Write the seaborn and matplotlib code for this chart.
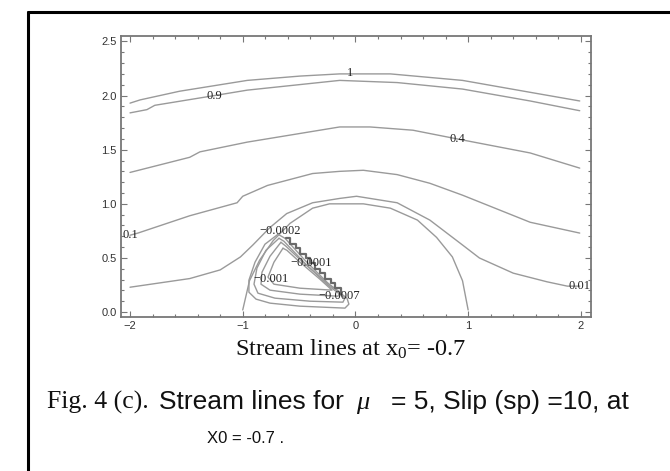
import numpy as np
import pandas as pd
import matplotlib
matplotlib.use("Agg")
import matplotlib.pyplot as plt
from matplotlib import font_manager
from matplotlib.lines import Line2D
from matplotlib.ticker import MultipleLocator, FormatStrFormatter
import seaborn as sns

# ---------------- data (stream function contours) ----------------
c1_x = [-2.0, -1.91, -1.56, -0.96, -0.49, -0.14, 0.31, 0.95, 1.55, 1.99]
c1_y = [1.93, 1.96, 2.04, 2.14, 2.18, 2.20, 2.20, 2.14, 2.03, 1.95]

c09_x = [-2.0, -1.85, -1.78, -1.25, -0.96, -0.14, 0.37, 0.95, 1.55, 1.99]
c09_y = [1.84, 1.87, 1.91, 2.00, 2.05, 2.14, 2.12, 2.06, 1.95, 1.86]

c04_x = [-2.0, -1.47, -1.38, -0.96, -0.14, 0.13, 0.51, 0.90, 1.55, 1.99]
c04_y = [1.29, 1.43, 1.48, 1.57, 1.71, 1.71, 1.68, 1.60, 1.47, 1.33]

c01_x = [-2.0, -1.93, -1.47, -1.05, -1.00, -0.78, -0.38, -0.14, 0.07, 0.37, 0.66, 0.95, 1.55, 1.99]
c01_y = [0.71, 0.73, 0.89, 1.01, 1.07, 1.17, 1.28, 1.30, 1.31, 1.27, 1.19, 1.08, 0.83, 0.73]

c001_x = [-2.0, -1.47, -1.20, -1.02, -0.91, -0.76, -0.61, -0.38, -0.14, 0.01, 0.37, 0.66, 0.95, 1.10, 1.40, 1.70, 1.88, 1.99]
c001_y = [0.23, 0.31, 0.39, 0.51, 0.62, 0.78, 0.91, 1.01, 1.05, 1.07, 1.01, 0.85, 0.62, 0.50, 0.36, 0.28, 0.24, 0.24]

c0_x = [-1.0, -0.94, -0.85, -0.73, -0.58, -0.38, -0.23, 0.07, 0.31, 0.55, 0.72, 0.86, 0.95, 1.0]
c0_y = [0.02, 0.29, 0.48, 0.66, 0.82, 0.96, 1.00, 1.00, 0.96, 0.85, 0.69, 0.51, 0.29, 0.02]

cA_x = [-0.687, -0.803, -0.891, -0.945, -0.945, -0.882, -0.758, -0.492, -0.093, -0.058, -0.075, -0.226, -0.448, -0.625, -0.687]
cA_y = [0.719, 0.627, 0.461, 0.295, 0.184, 0.120, 0.083, 0.055, 0.037, 0.074, 0.129, 0.249, 0.479, 0.682, 0.719]

cB_x = [-0.678, -0.794, -0.874, -0.900, -0.865, -0.714, -0.404, -0.111, -0.093, -0.244, -0.457, -0.634, -0.678]
cB_y = [0.682, 0.571, 0.406, 0.258, 0.175, 0.129, 0.101, 0.092, 0.129, 0.249, 0.461, 0.654, 0.682]

cC_x = [-0.661, -0.758, -0.829, -0.838, -0.758, -0.492, -0.155, -0.137, -0.271, -0.466, -0.616, -0.661]
cC_y = [0.645, 0.516, 0.369, 0.258, 0.203, 0.166, 0.147, 0.184, 0.286, 0.461, 0.608, 0.645]

cD_x = [-0.643, -0.723, -0.776, -0.723, -0.492, -0.208, -0.315, -0.492, -0.608, -0.643]
cD_y = [0.590, 0.461, 0.323, 0.258, 0.221, 0.203, 0.304, 0.461, 0.571, 0.590]

stair_x = [-0.62, -0.58, -0.58, -0.53, -0.53, -0.49, -0.49, -0.44, -0.44, -0.40, -0.40, -0.36,
           -0.36, -0.31, -0.31, -0.27, -0.27, -0.22, -0.22, -0.18, -0.18, -0.13, -0.13]
stair_y = [0.68, 0.68, 0.63, 0.63, 0.59, 0.59, 0.54, 0.54, 0.50, 0.50, 0.45, 0.45,
           0.40, 0.40, 0.36, 0.36, 0.31, 0.31, 0.27, 0.27, 0.22, 0.22, 0.17]

label_text = ["1", "0.9", "0.4", "0.1", "0.01", "\u22120.0002", "\u22120.0001", "\u22120.001", "\u22120.0007"]
label_x = [-0.05, -1.25, 0.90, -2.0, 1.99, -0.67, -0.395, -0.75, -0.14]
label_y = [2.21, 2.00, 1.60, 0.71, 0.24, 0.745, 0.45, 0.31, 0.147]

x_ticks = [-2, -1, 0, 1, 2]
y_ticks = [0.0, 0.5, 1.0, 1.5, 2.0, 2.5]

# ---------------- styling ----------------
sns.set_style("ticks")
plt.rcParams["font.family"] = ["Liberation Sans", "DejaVu Sans"]
plt.rcParams["mathtext.fontset"] = "custom"
plt.rcParams["mathtext.rm"] = "Liberation Serif"
plt.rcParams["mathtext.it"] = "Liberation Serif:italic"
plt.rcParams["axes.unicode_minus"] = True

W, H = 670, 471
fig = plt.figure(figsize=(W / 100, H / 100), dpi=100)
ax = fig.add_axes([121 / W, 1 - 317 / H, 470 / W, 281 / H])

lines = {
    "c1": (c1_x, c1_y), "c09": (c09_x, c09_y), "c04": (c04_x, c04_y),
    "c01": (c01_x, c01_y), "c001": (c001_x, c001_y), "c0": (c0_x, c0_y),
    "cA": (cA_x, cA_y), "cB": (cB_x, cB_y), "cC": (cC_x, cC_y), "cD": (cD_x, cD_y),
}
rows = []
for name, (xs, ys) in lines.items():
    for i, (xv, yv) in enumerate(zip(xs, ys)):
        rows.append({"line": name, "order": i, "x": xv, "y": yv})
df = pd.DataFrame(rows)

sns.lineplot(data=df, x="x", y="y", units="line", estimator=None, sort=False,
             color="#9a9a9a", linewidth=1.0, ax=ax)
stair = pd.DataFrame({"x": stair_x, "y": stair_y})
sns.lineplot(data=stair, x="x", y="y", estimator=None, sort=False,
             color="#6a6a6a", linewidth=1.6, ax=ax)

for s, xv, yv in zip(label_text, label_x, label_y):
    ax.text(xv, yv, s, ha="center", va="center", fontsize=9,
            family=["Liberation Serif", "DejaVu Serif"], color="#222222")

ax.set_xlim(-2.08, 2.09)
ax.set_ylim(-0.045, 2.55)
ax.set_xticks(x_ticks)
ax.set_yticks(y_ticks)
ax.xaxis.set_minor_locator(MultipleLocator(0.2))
ax.yaxis.set_minor_locator(MultipleLocator(0.1))
ax.yaxis.set_major_formatter(FormatStrFormatter("%.1f"))
ax.set_xlabel("")
ax.set_ylabel("")
for sp in ax.spines.values():
    sp.set_visible(True)
    sp.set_color("#777777")
    sp.set_linewidth(1.3)
ax.tick_params(which="both", direction="in", top=True, right=True, color="#777777",
               labelsize=8, labelcolor="#333333", width=0.8)
ax.tick_params(which="major", length=4, pad=3)
ax.tick_params(which="minor", length=2)

# page frame
fig.add_artist(Line2D([28 / W, 28 / W], [0, 1 - 12 / H], color="black", lw=2.2, transform=fig.transFigure))
fig.add_artist(Line2D([28 / W, 1], [1 - 12 / H, 1 - 12 / H], color="black", lw=2.2, transform=fig.transFigure))

# texts
fig.text(351 / W, 1 - 356 / H, "Stream lines at $\\mathrm{x_0}$= -0.7", ha="center", va="baseline",
         family=["Liberation Serif", "DejaVu Serif"], fontsize=17.5, color="#111111")
yb = 1 - 409 / H
fig.text(47 / W, yb, "Fig. 4 (c).", ha="left", va="baseline",
         family=["Liberation Serif", "DejaVu Serif"], fontsize=18.5, color="#111111")
fig.text(159 / W, yb, "Stream lines for", ha="left", va="baseline",
         family=["Liberation Sans", "DejaVu Sans"], fontsize=19, color="#111111")
fig.text(356 / W, yb, "\u03bc", ha="left", va="baseline", style="italic",
         family=["Liberation Serif", "DejaVu Serif"], fontsize=19, color="#111111")
fig.text(391 / W, yb, "= 5, Slip (sp) =10, at", ha="left", va="baseline",
         family=["Liberation Sans", "DejaVu Sans"], fontsize=19, color="#111111")
fig.text(207 / W, 1 - 443 / H, "X0 = -0.7 .", ha="left", va="baseline",
         family=["Liberation Sans", "DejaVu Sans"], fontsize=12, color="#111111")

fig.savefig("out.png", dpi=100)
